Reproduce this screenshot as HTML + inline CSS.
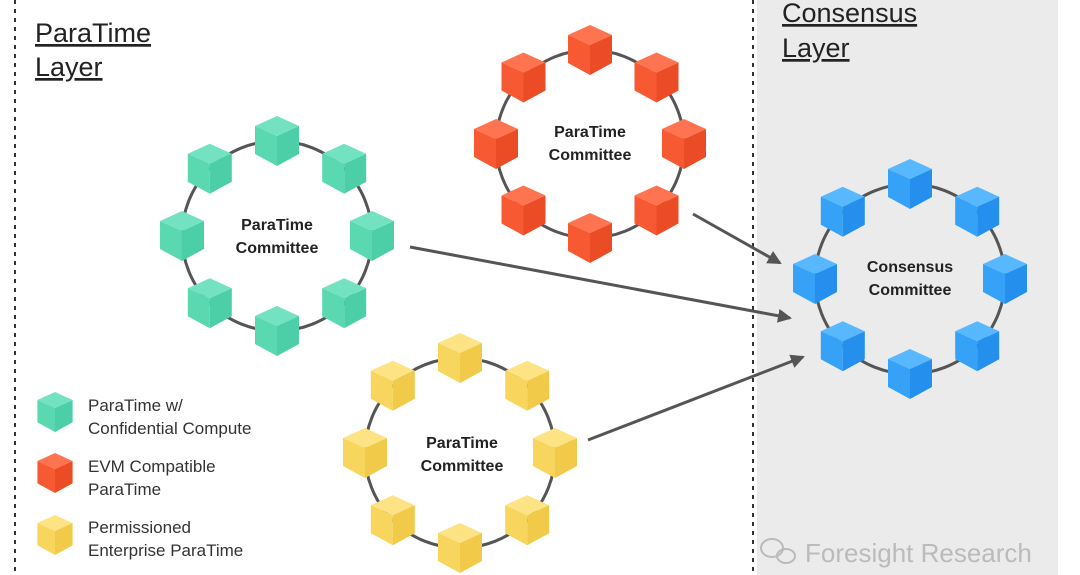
<!DOCTYPE html>
<html><head><meta charset="utf-8"><style>
body{margin:0;background:#fff;}
svg{display:block;}
text{font-family:"Liberation Sans",sans-serif;}
</style></head><body>
<svg width="1080" height="575" viewBox="0 0 1080 575" xmlns="http://www.w3.org/2000/svg">
<defs>
<g id="cg"><polygon points="0,-25 22,-15 0,-5 -22,-15" fill="#72e2c0"/><polygon points="-22,-15 0,-5 0,25 -22,13" fill="#5ad8b0"/><polygon points="22,-15 0,-5 0,25 22,13" fill="#4ccfa6"/></g>
<g id="cr"><polygon points="0,-25 22,-15 0,-5 -22,-15" fill="#ff7450"/><polygon points="-22,-15 0,-5 0,25 -22,13" fill="#f75a33"/><polygon points="22,-15 0,-5 0,25 22,13" fill="#ec4c25"/></g>
<g id="cy"><polygon points="0,-25 22,-15 0,-5 -22,-15" fill="#fde383"/><polygon points="-22,-15 0,-5 0,25 -22,13" fill="#f8d55c"/><polygon points="22,-15 0,-5 0,25 22,13" fill="#f1ca4a"/></g>
<g id="cb"><polygon points="0,-25 22,-15 0,-5 -22,-15" fill="#58b8ff"/><polygon points="-22,-15 0,-5 0,25 -22,13" fill="#35a1f7"/><polygon points="22,-15 0,-5 0,25 22,13" fill="#248fec"/></g>
<marker id="ah" markerWidth="14" markerHeight="14" refX="12" refY="7" orient="auto" markerUnits="userSpaceOnUse"><path d="M0,0 L14,7 L0,14 Z" fill="#555"/></marker>
</defs>
<rect x="757" y="0" width="301" height="575" fill="#ebebeb"/>
<line x1="15" y1="0" x2="15" y2="575" stroke="#333" stroke-width="2" stroke-dasharray="4,5"/>
<line x1="753" y1="0" x2="753" y2="575" stroke="#333" stroke-width="2" stroke-dasharray="4,5"/>
<text x="35" y="42" font-size="27" fill="#222" text-decoration="underline">ParaTime</text>
<text x="35" y="76" font-size="27" fill="#222" text-decoration="underline">Layer</text>
<text x="782" y="22" font-size="27" fill="#222" text-decoration="underline">Consensus</text>
<text x="782" y="57" font-size="27" fill="#222" text-decoration="underline">Layer</text>
<g stroke="#555" stroke-width="3" fill="none">
<circle cx="277" cy="236" r="95"/><circle cx="590" cy="144" r="94"/><circle cx="460" cy="453" r="95"/><circle cx="910" cy="279" r="95"/>
</g>
<g stroke="#555" stroke-width="3" marker-end="url(#ah)">
<line x1="410" y1="247" x2="790" y2="318"/>
<line x1="693" y1="214" x2="780" y2="263"/>
<line x1="588" y1="440" x2="803" y2="357"/>
</g>
<g id="cubes"></g>
<g font-weight="bold" font-size="16" fill="#222" text-anchor="middle">
<text x="277" y="230">ParaTime</text><text x="277" y="253">Committee</text>
<text x="590" y="137">ParaTime</text><text x="590" y="160">Committee</text>
<text x="462" y="448">ParaTime</text><text x="462" y="471">Committee</text>
<text x="910" y="272">Consensus</text><text x="910" y="295">Committee</text>
</g>
<g transform="translate(55,412) scale(0.8)"><use href="#cg"/></g>
<g transform="translate(55,473) scale(0.8)"><use href="#cr"/></g>
<g transform="translate(55,535) scale(0.8)"><use href="#cy"/></g>
<g font-size="17" fill="#333">
<text x="88" y="411">ParaTime w/</text><text x="88" y="434">Confidential Compute</text>
<text x="88" y="472">EVM Compatible</text><text x="88" y="495">ParaTime</text>
<text x="88" y="533">Permissioned</text><text x="88" y="556">Enterprise ParaTime</text>
</g>
<text x="805" y="562" font-size="26" fill="#bbb">Foresight Research</text>
<g fill="none" stroke="#bbb" stroke-width="2"><ellipse cx="772" cy="548" rx="11" ry="9"/><ellipse cx="786" cy="556" rx="9" ry="7"/></g>
</svg>
<script>
var g=document.getElementById('cubes'),ns='http://www.w3.org/2000/svg';
[[277,236,95,'cg'],[590,144,94,'cr'],[460,453,95,'cy'],[910,279,95,'cb']].forEach(function(c){
for(var i=0;i<8;i++){var a=i*Math.PI/4;var u=document.createElementNS(ns,'use');
u.setAttribute('href','#'+c[3]);u.setAttribute('x',(c[0]+c[2]*Math.sin(a)).toFixed(1));u.setAttribute('y',(c[1]-c[2]*Math.cos(a)).toFixed(1));g.appendChild(u);}
});
</script>
</body></html>
